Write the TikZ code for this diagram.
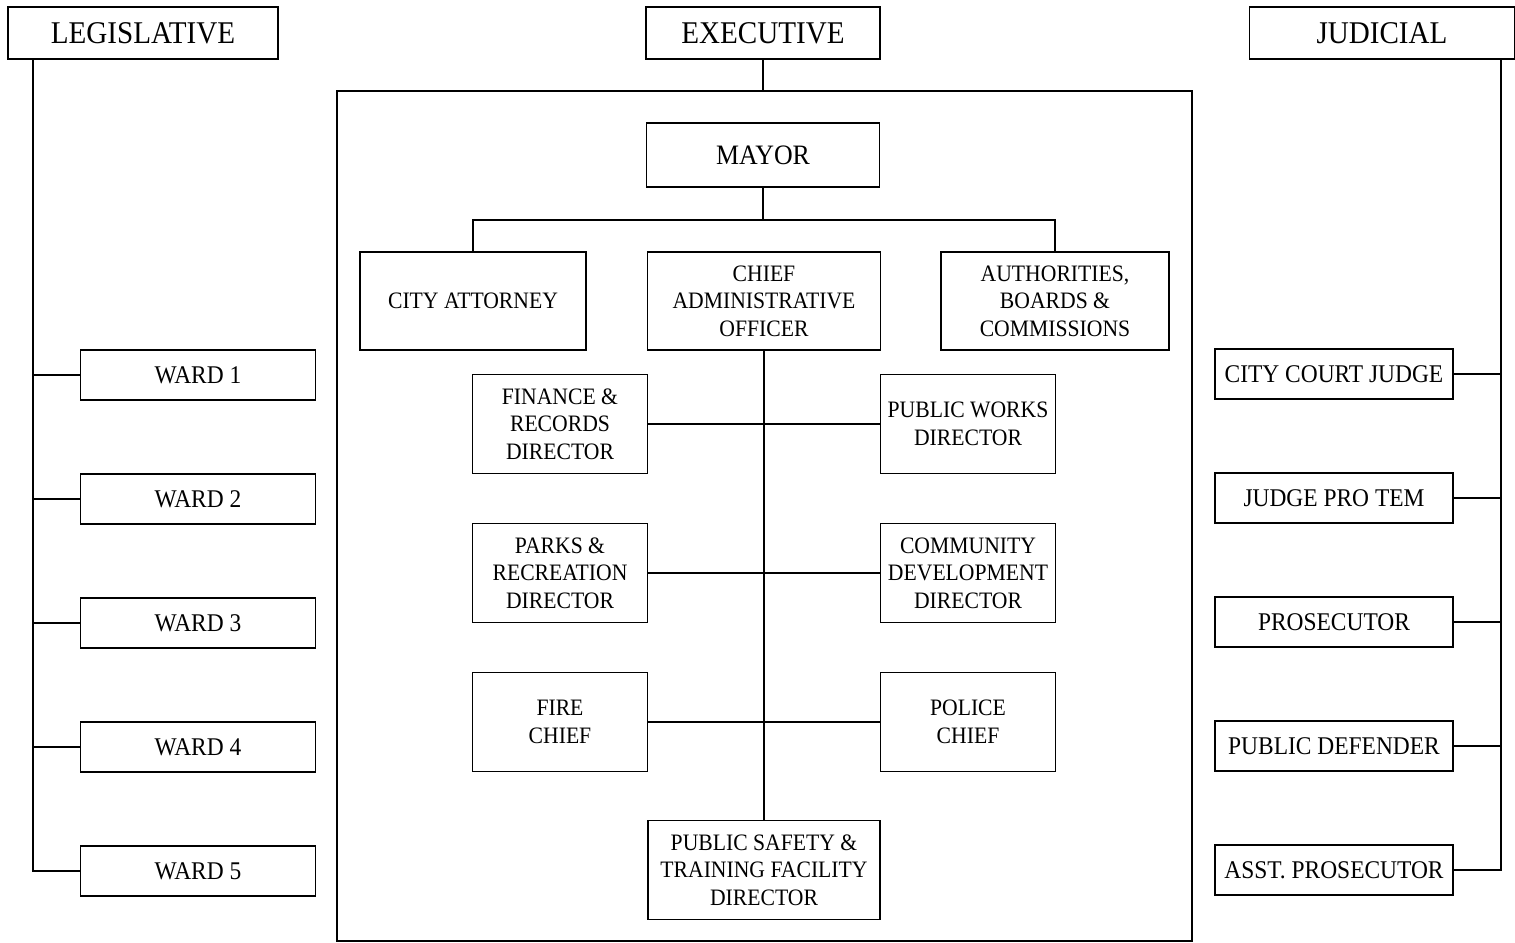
\documentclass[tikz,border=0pt]{standalone}
\usepackage{fontspec}
\setmainfont[FakeStretch=0.92]{Liberation Serif}
\usepackage{tikz}
\usetikzlibrary{positioning}
\tikzstyle{branch} = [draw=black, rectangle, line width=0.9pt, minimum width=4.68cm, minimum height=1.04cm,
inner sep=0pt, font=\fontsize{18}{20}\selectfont]
\tikzstyle{office} = [draw=black, rectangle, line width=0.9pt, align=center, inner sep=0pt,
font=\fontsize{14.5}{15.6}\selectfont]
\tikzstyle{dept} = [office, font=\fontsize{13.4}{15.6}\selectfont]
\tikzstyle{link} = [line width=0.9pt]

\begin{document}
\begin{tikzpicture}[x=0.02cm,y=-0.02cm]
\useasboundingbox (0,0) rectangle (1515,943);

% three branches
\node[branch, minimum width=5.4cm] (legis) at (143,33) {LEGISLATIVE};
\node[branch] (exec) at (763,33) {EXECUTIVE};
\node[branch, minimum width=5.3cm] (judic) at (1382,33) {JUDICIAL};

% executive frame
\draw[link] (337,91) rectangle (1192,941);
\coordinate (ftop) at (763,91);
\draw[link] (exec) -- (ftop);

\node[office, minimum width=4.66cm, minimum height=1.28cm] (mayor) at (763,155)
    {\fontsize{16}{18}\selectfont MAYOR};
\node[dept, minimum width=4.52cm, minimum height=1.96cm] (attorney) at (473,301) {CITY ATTORNEY};
\node[dept, minimum width=4.66cm, minimum height=1.96cm] (cao) at (764,301)
    {CHIEF\\ADMINISTRATIVE\\OFFICER};
\node[dept, minimum width=4.56cm, minimum height=1.96cm] (boards) at (1055,301)
    {AUTHORITIES,\\BOARDS \&\\COMMISSIONS};
\coordinate (bus) at (763,220);
\draw[link] (mayor) -- (bus);
\draw[link] (attorney.north) |- (bus) -| (boards.north);

\node[dept, minimum width=3.5cm, minimum height=1.98cm] (finance) at (560,424)
    {FINANCE \&\\RECORDS\\DIRECTOR};
\node[dept, minimum width=3.5cm, minimum height=1.98cm] (works) at (968,424)
    {PUBLIC WORKS\\DIRECTOR};
\node[dept, minimum width=3.5cm, minimum height=1.98cm] (parks) at (560,573)
    {PARKS \&\\RECREATION\\DIRECTOR};
\node[dept, minimum width=3.5cm, minimum height=1.98cm] (community) at (968,573)
    {COMMUNITY\\DEVELOPMENT\\DIRECTOR};
\node[dept, minimum width=3.5cm, minimum height=1.98cm] (fire) at (560,722)
    {FIRE\\CHIEF};
\node[dept, minimum width=3.5cm, minimum height=1.98cm] (police) at (968,722)
    {POLICE\\CHIEF};
\node[dept, minimum width=4.64cm, minimum height=1.98cm] (safety) at (764,870)
    {PUBLIC SAFETY \&\\TRAINING FACILITY\\DIRECTOR};
\draw[link] (cao) -- (safety);
\draw[link] (finance) -- (works);
\draw[link] (parks) -- (community);
\draw[link] (fire) -- (police);

% legislative
\node[office, minimum width=4.7cm, minimum height=1cm] (ward1) at (198,375) {WARD 1};
\node[office, minimum width=4.7cm, minimum height=1cm] (ward2) at (198,499) {WARD 2};
\node[office, minimum width=4.7cm, minimum height=1cm] (ward3) at (198,623) {WARD 3};
\node[office, minimum width=4.7cm, minimum height=1cm] (ward4) at (198,747) {WARD 4};
\node[office, minimum width=4.7cm, minimum height=1cm] (ward5) at (198,871) {WARD 5};
\coordinate (lspine) at (33,59);
\draw[link] (lspine) |- (ward5);
\draw[link] (ward1) -- (ward1 -| lspine);
\draw[link] (ward2) -- (ward2 -| lspine);
\draw[link] (ward3) -- (ward3 -| lspine);
\draw[link] (ward4) -- (ward4 -| lspine);

% judicial
\node[office, minimum width=4.76cm, minimum height=1cm] (judge) at (1334,374) {CITY COURT JUDGE};
\node[office, minimum width=4.76cm, minimum height=1cm] (protem) at (1334,498) {JUDGE PRO TEM};
\node[office, minimum width=4.76cm, minimum height=1cm] (prosec) at (1334,622) {PROSECUTOR};
\node[office, minimum width=4.76cm, minimum height=1cm] (defender) at (1334,746) {PUBLIC DEFENDER};
\node[office, minimum width=4.76cm, minimum height=1cm] (asst) at (1334,870) {ASST. PROSECUTOR};
\coordinate (rspine) at (1501,59);
\draw[link] (rspine) |- (asst);
\draw[link] (judge) -- (judge -| rspine);
\draw[link] (protem) -- (protem -| rspine);
\draw[link] (prosec) -- (prosec -| rspine);
\draw[link] (defender) -- (defender -| rspine);
\end{tikzpicture}
\end{document}
